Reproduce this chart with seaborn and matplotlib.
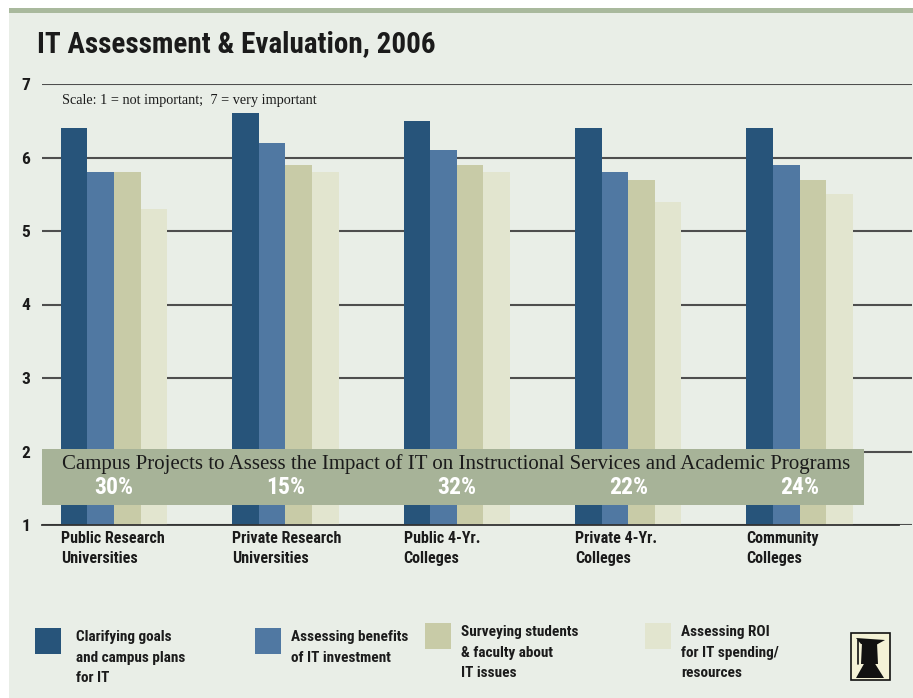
"""
IT Assessment & Evaluation, 2006 - grouped bar chart recreation.
"""
import numpy as np
import pandas as pd
import matplotlib
matplotlib.use("Agg")
import matplotlib.pyplot as plt
from matplotlib import font_manager
from matplotlib.patches import Rectangle, Polygon
import seaborn as sns

# ── Data ──────────────────────────────────────────────────────
institutions = [
    "Public Research\nUniversities",
    "Private Research\nUniversities",
    "Public 4-Yr.\nColleges",
    "Private 4-Yr.\nColleges",
    "Community\nColleges",
]
measures = [
    "Clarifying goals\nand campus plans\nfor IT",
    "Assessing benefits\nof IT investment",
    "Surveying students\n& faculty about\nIT issues",
    "Assessing ROI\nfor IT spending/\nresources",
]
clarifying = [6.4, 6.6, 6.5, 6.4, 6.4]
benefits = [5.8, 6.2, 6.1, 5.8, 5.9]
surveying = [5.8, 5.9, 5.9, 5.7, 5.7]
roi = [5.3, 5.8, 5.8, 5.4, 5.5]
impact_pct = ["30%", "15%", "32%", "22%", "24%"]
y_ticks = [1, 2, 3, 4, 5, 6, 7]

# ── Styling ───────────────────────────────────────────────────
COLORS = ["#27547A", "#5078A2", "#C8CBA7", "#E2E5CF"]
BG = "#E9EEE7"
BAND = "#A9B99D"
BANNER = "#A7B398"
INK = "#1B1B1B"

sns.set_theme(style="white")

# pick the narrowest sans family that is actually installed
installed = {f.name for f in font_manager.fontManager.ttflist}
narrow = None
for cand in ["Roboto Condensed", "DejaVu Sans Condensed", "Liberation Sans Narrow",
             "Open Sans Condensed", "Noto Sans Condensed"]:
    if cand in installed:
        narrow = cand
        break
if narrow is None:
    narrow = "Roboto" if "Roboto" in installed else "DejaVu Sans"
    SHRINK = 0.86
else:
    SHRINK = 1.0
COND = [narrow, "DejaVu Sans"]
SERIF = ["Liberation Serif", "DejaVu Serif"]
plt.rcParams["font.family"] = COND

W, H = 913, 698
fig = plt.figure(figsize=(W / 100, H / 100), dpi=100)
fig.patch.set_facecolor("white")


def fx(px):
    return px / W


def fy(py):
    return (H - py) / H


# panel + top band
fig.add_artist(Rectangle((fx(9), 0), 1 - fx(9), fy(13), transform=fig.transFigure,
                         facecolor=BG, edgecolor="none", zorder=0))
fig.add_artist(Rectangle((fx(9), fy(13)), 1 - fx(9), fy(8) - fy(13),
                         transform=fig.transFigure, facecolor=BAND, edgecolor="none", zorder=0))

fig.text(fx(37), fy(52), "IT Assessment & Evaluation, 2006", fontsize=21 * SHRINK,
         fontweight="bold", color=INK, va="baseline", ha="left", family=COND)

# ── Axes ──────────────────────────────────────────────────────
ax = fig.add_axes([fx(42), fy(525), fx(912) - fx(42), fy(84) - fy(525)])
ax.set_facecolor("none")

df = pd.DataFrame({
    "institution": np.repeat(institutions, len(measures)),
    "measure": measures * len(institutions),
    "score": np.column_stack([clarifying, benefits, surveying, roi]).ravel(),
})

sns.barplot(data=df, x="institution", y="score", hue="measure",
            hue_order=measures, order=institutions, palette=COLORS,
            width=0.62, saturation=1, dodge=True, legend=False,
            edgecolor="none", linewidth=0, ax=ax, zorder=2)

ax.set_ylim(1, 7)
ax.set_xlim(-0.42, 4.656)
ax.set_yticks(y_ticks)
ax.set_yticklabels([str(t) for t in y_ticks], fontsize=12 * SHRINK + 0.5,
                   fontweight="bold", color=INK)
ax.tick_params(axis="y", length=0, pad=8.5)
ax.set_xticks([i - 0.42 for i in range(len(institutions) + 1)])
ax.set_xticklabels([])
ax.tick_params(axis="x", direction="out", length=8, width=1.2, color="#333333")
ax.yaxis.grid(True, color="#4E4E4E", linewidth=1.5)
ax.set_axisbelow(True)
ax.set_xlabel("")
ax.set_ylabel("")
for side in ["top", "right", "left"]:
    ax.spines[side].set_visible(False)
ax.spines["bottom"].set_color("#333333")
ax.spines["bottom"].set_linewidth(1.3)
ax.spines["bottom"].set_bounds(-0.42, 4.58)
ax.spines["bottom"].set_zorder(5)

# category labels under the axis
for i, name in enumerate(institutions):
    ax.text(i - 0.31, -0.014, name, transform=ax.get_xaxis_transform(),
            ha="left", va="top", fontsize=11.5 * SHRINK, fontweight="bold", color=INK,
            linespacing=1.4, family=COND)

ax.text(-0.303, 6.73, "Scale: 1 = not important;  7 = very important",
        fontsize=10.3, color=INK, family=SERIF, va="baseline", ha="left")

# impact banner
ax.add_patch(Rectangle((-0.42, 1.272), 4.796, 2.034 - 1.272, facecolor=BANNER,
                       edgecolor="none", zorder=4))
ax.text(1.995, 1.762,
        "Campus Projects to Assess the Impact of IT on Instructional Services and Academic Programs",
        fontsize=15, color=INK, family=SERIF, ha="center", va="baseline", zorder=6)
for i, pct in enumerate(impact_pct):
    ax.text(i, 1.422, pct, fontsize=17 * SHRINK, fontweight="bold", color="white",
            ha="center", va="baseline", zorder=6, family=COND)

# ── Legend ────────────────────────────────────────────────────
legend_pos = [(35, 628, 76), (255, 628, 291), (425, 623, 461), (645, 623, 681)]
for (px, py, tx), label, color in zip(legend_pos, measures, COLORS):
    fig.add_artist(Rectangle((fx(px), fy(py + 26)), fx(26), 26 / H,
                             transform=fig.transFigure, facecolor=color, edgecolor="none"))
    fig.text(fx(tx), fy(py + 2), label, fontsize=11 * SHRINK, fontweight="bold", color=INK,
             ha="left", va="top", linespacing=1.6, family=COND)

# small mortarboard logo
fig.add_artist(Rectangle((fx(851), fy(680)), fx(39), 47 / H, transform=fig.transFigure,
                         facecolor="#F4F2D6", edgecolor="#111111", linewidth=1.2))
cap = [(856, 638), (885, 640), (876, 645), (861, 644)]
head = [(862, 643), (877, 643), (878, 664), (861, 664)]
body = [(865, 662), (874, 662), (884, 678), (856, 678)]
for shape in (cap, head, body):
    fig.add_artist(Polygon([(fx(a), fy(b)) for a, b in shape], closed=True,
                           transform=fig.transFigure, facecolor="#111111", edgecolor="none"))
fig.add_artist(plt.Line2D([fx(858), fx(858)], [fy(640), fy(664)], transform=fig.transFigure,
                          color="#111111", linewidth=1.2))

fig.savefig("out.png", dpi=100, facecolor="white")
